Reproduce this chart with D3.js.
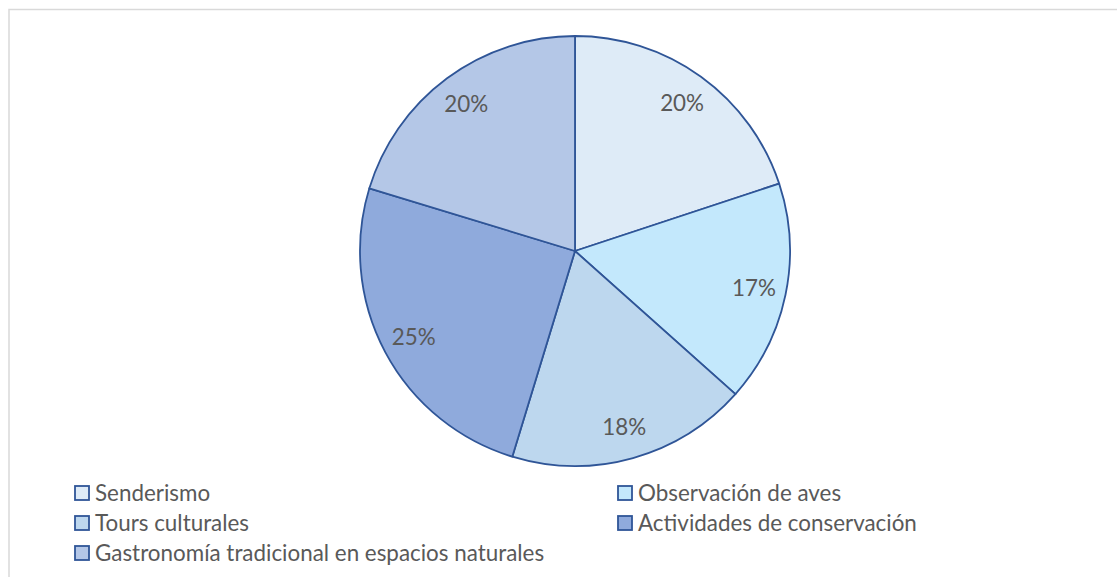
<!DOCTYPE html>
<html>
<head>
<meta charset="utf-8">
<script src="https://cdn.jsdelivr.net/npm/d3@7"></script>
<style>
  body { margin: 0; background: #fff; }
  svg { display: block; }
</style>
</head>
<body>
<div id="chart"></div>
<script>
// categories and counts
const categories = ["Senderismo", "Observación de aves", "Tours culturales",
  "Actividades de conservación", "Gastronomía tradicional en espacios naturales"];
const values = [55, 46, 50, 69, 56];
const colors = ["#DEEBF7", "#C3E8FC", "#BDD7EE", "#8FAADC", "#B4C7E7"];

const width = 1117, height = 577;
const cx = 575, cy = 251, radius = 215;

const svg = d3.select("#chart")
    .append("svg")
    .attr("width", width)
    .attr("height", height);

// chart area border (runs off the right and bottom edge)
svg.append("rect")
    .attr("x", 9).attr("y", 9.5)
    .attr("width", width + 20).attr("height", height + 20)
    .attr("fill", "none")
    .attr("stroke", "#d9d9d9")
    .attr("stroke-width", 1.5);

const data = categories.map((c, i) => ({ name: c, value: values[i], color: colors[i] }));
const total = d3.sum(values);

const pie = d3.pie().value(d => d.value).sort(null);
const arc = d3.arc().innerRadius(0).outerRadius(radius);
const labelArc = d3.arc().innerRadius(radius * 0.85).outerRadius(radius * 0.85);

const g = svg.append("g").attr("transform", `translate(${cx},${cy})`);

const arcs = pie(data);

g.selectAll("path")
    .data(arcs)
    .enter()
    .append("path")
    .attr("d", arc)
    .attr("fill", d => d.data.color)
    .attr("stroke", "#2F5597")
    .attr("stroke-width", 1.8)
    .attr("stroke-linejoin", "round");

g.selectAll("text")
    .data(arcs)
    .enter()
    .append("text")
    .attr("transform", d => `translate(${labelArc.centroid(d)})`)
    .attr("text-anchor", "middle")
    .attr("dy", "0.35em")
    .attr("font-family", "Lato, 'Open Sans', sans-serif")
    .attr("font-size", 22.4)
    .attr("fill", "#595959")
    .text(d => Math.round(d.data.value / total * 100) + "%");

// legend, two columns
const legendX = [74, 617], legendY = [493, 523, 553];
const legend = svg.append("g")
    .selectAll("g")
    .data(data)
    .enter()
    .append("g")
    .attr("transform", (d, i) => `translate(${legendX[i % 2]},${legendY[Math.floor(i / 2)]})`);

legend.append("rect")
    .attr("x", 1).attr("y", -7)
    .attr("width", 14).attr("height", 14)
    .attr("fill", d => d.color)
    .attr("stroke", "#2F5597")
    .attr("stroke-width", 1.8);

legend.append("text")
    .attr("x", 21)
    .attr("dy", "0.35em")
    .attr("font-family", "Lato, 'Open Sans', sans-serif")
    .attr("font-size", 22.4)
    .attr("fill", "#595959")
    .text(d => d.name);
</script>
</body>
</html>
